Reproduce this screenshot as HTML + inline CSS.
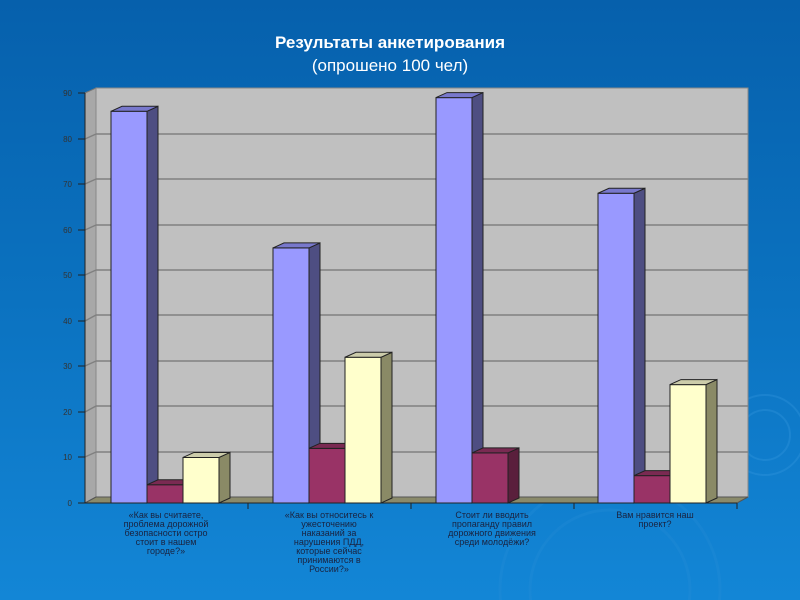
<!DOCTYPE html>
<html><head><meta charset="utf-8"><style>
html,body{margin:0;padding:0;width:800px;height:600px;overflow:hidden;}
body{background:linear-gradient(180deg,#0660ac 0%,#0b72c0 50%,#1386d6 100%);font-family:"Liberation Sans",sans-serif;position:relative;}
.t{position:absolute;left:0;width:780px;text-align:center;color:#fff;font-size:17px;}
svg{overflow:hidden;display:block;}
</style></head><body>
<div class="t" style="top:33px;font-weight:bold;">Результаты анкетирования</div>
<div class="t" style="top:56px;">(опрошено 100 чел)</div>
<svg width="800" height="600" viewBox="0 0 800 600" style="position:absolute;left:0;top:0" font-family="Liberation Sans, sans-serif">
<circle cx="765" cy="435" r="40" fill="none" stroke="#3a9be0" stroke-width="2" opacity=".3"/>
<circle cx="765" cy="435" r="25" fill="none" stroke="#3a9be0" stroke-width="2" opacity=".3"/>
<circle cx="610" cy="590" r="110" fill="none" stroke="#2a90d8" stroke-width="3" opacity=".25"/>
<circle cx="610" cy="590" r="80" fill="none" stroke="#2a90d8" stroke-width="3" opacity=".25"/>
<polygon points="85,93 96,88 96,497 85,503" fill="#a8a8a8" stroke="#777" stroke-width="1"/>
<rect x="96" y="88" width="652" height="409" fill="#c0c0c0" stroke="#888" stroke-width="1"/>
<polygon points="85,503 96,497 748,497 737,503" fill="#8a8a6a" stroke="#555" stroke-width="1"/>
<g stroke="#808080" stroke-width="1.5">
<line x1="85" y1="139" x2="96" y2="134"/><line x1="96" y1="134" x2="748" y2="134"/>
<line x1="85" y1="184" x2="96" y2="179"/><line x1="96" y1="179" x2="748" y2="179"/>
<line x1="85" y1="230" x2="96" y2="225"/><line x1="96" y1="225" x2="748" y2="225"/>
<line x1="85" y1="275" x2="96" y2="270"/><line x1="96" y1="270" x2="748" y2="270"/>
<line x1="85" y1="321" x2="96" y2="315"/><line x1="96" y1="315" x2="748" y2="315"/>
<line x1="85" y1="366" x2="96" y2="361"/><line x1="96" y1="361" x2="748" y2="361"/>
<line x1="85" y1="412" x2="96" y2="406"/><line x1="96" y1="406" x2="748" y2="406"/>
<line x1="85" y1="457" x2="96" y2="452"/><line x1="96" y1="452" x2="748" y2="452"/>
</g>
<g stroke="#222" stroke-width="1">
<line x1="85" y1="93" x2="85" y2="503"/>
<line x1="85" y1="503" x2="737" y2="503"/>
<line x1="78" y1="93" x2="85" y2="93"/><line x1="78" y1="139" x2="85" y2="139"/><line x1="78" y1="184" x2="85" y2="184"/><line x1="78" y1="230" x2="85" y2="230"/><line x1="78" y1="275" x2="85" y2="275"/><line x1="78" y1="321" x2="85" y2="321"/><line x1="78" y1="366" x2="85" y2="366"/><line x1="78" y1="412" x2="85" y2="412"/><line x1="78" y1="457" x2="85" y2="457"/><line x1="78" y1="503" x2="85" y2="503"/>
<line x1="248" y1="503" x2="248" y2="509"/><line x1="411" y1="503" x2="411" y2="509"/><line x1="574" y1="503" x2="574" y2="509"/><line x1="737" y1="503" x2="737" y2="509"/>
</g>
<g font-size="8" fill="#333" text-anchor="end">
<text x="72" y="96">90</text><text x="72" y="142">80</text><text x="72" y="187">70</text><text x="72" y="233">60</text><text x="72" y="278">50</text><text x="72" y="324">40</text><text x="72" y="369">30</text><text x="72" y="415">20</text><text x="72" y="460">10</text><text x="72" y="506">0</text>
</g>
<g id="bars" stroke="#222" stroke-width="1"></g>
<g font-size="9" fill="#1a2340" text-anchor="middle">
<text x="166" y="518">«Как вы считаете,</text><text x="166" y="527">проблема дорожной</text><text x="166" y="536">безопасности остро</text><text x="166" y="545">стоит в нашем</text><text x="166" y="554">городе?»</text>
<text x="329" y="518">«Как вы относитесь к</text><text x="329" y="527">ужесточению</text><text x="329" y="536">наказаний за</text><text x="329" y="545">нарушения ПДД,</text><text x="329" y="554">которые сейчас</text><text x="329" y="563">принимаются в</text><text x="329" y="572">России?»</text>
<text x="492" y="518">Стоит ли вводить</text><text x="492" y="527">пропаганду правил</text><text x="492" y="536">дорожного движения</text><text x="492" y="545">среди молодёжи?</text>
<text x="655" y="518">Вам нравится наш</text><text x="655" y="527">проект?</text>
</g>
</svg>
<script>
var g=document.getElementById('bars'),ns='http://www.w3.org/2000/svg';
var data=[[111,86,'#9999ff','#4e4e82','#7878cc'],[147,4,'#993366','#5a1f3c','#7a2a52'],[183,10,'#ffffcc','#8a8a66','#ccccaa'],
[273,56,'#9999ff','#4e4e82','#7878cc'],[309,12,'#993366','#5a1f3c','#7a2a52'],[345,32,'#ffffcc','#8a8a66','#ccccaa'],
[436,89,'#9999ff','#4e4e82','#7878cc'],[472,11,'#993366','#5a1f3c','#7a2a52'],
[598,68,'#9999ff','#4e4e82','#7878cc'],[634,6,'#993366','#5a1f3c','#7a2a52'],[670,26,'#ffffcc','#8a8a66','#ccccaa']];
function p(pts,f){var e=document.createElementNS(ns,'polygon');e.setAttribute('points',pts);e.setAttribute('fill',f);g.appendChild(e);}
data.forEach(function(d){var x=d[0],w=36,b=503,t=b-d[1]*4.555,dx=11,dy=5;
p(x+','+t+' '+(x+w)+','+t+' '+(x+w)+','+b+' '+x+','+b,d[2]);
p((x+w)+','+t+' '+(x+w+dx)+','+(t-dy)+' '+(x+w+dx)+','+(b-dy)+' '+(x+w)+','+b,d[3]);
p(x+','+t+' '+(x+dx)+','+(t-dy)+' '+(x+w+dx)+','+(t-dy)+' '+(x+w)+','+t,d[4]);});
</script>
</body></html>
